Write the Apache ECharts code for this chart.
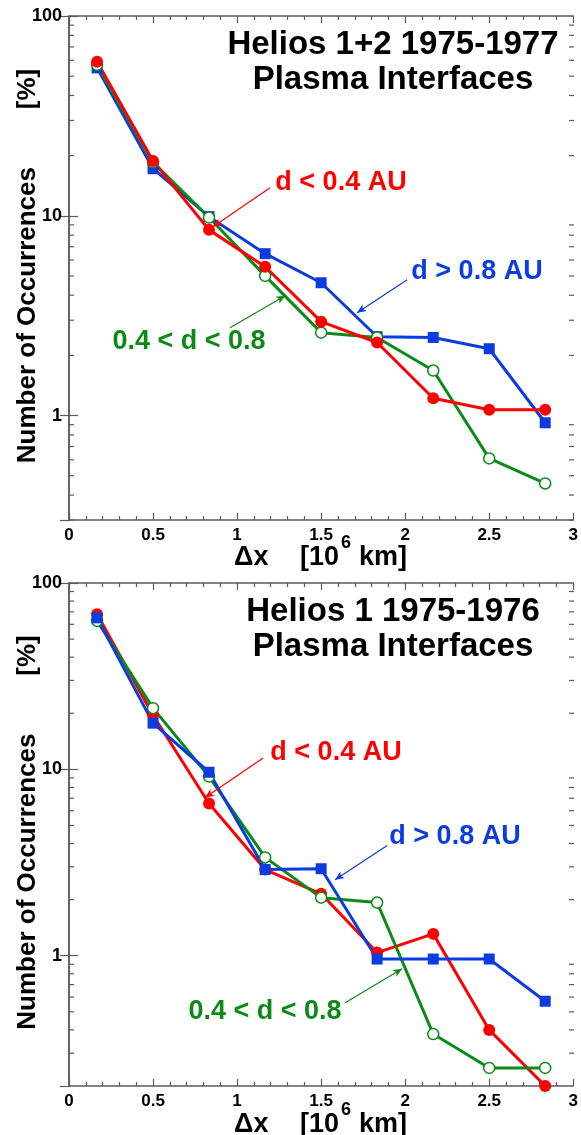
<!DOCTYPE html>
<html>
<head>
<meta charset="utf-8">
<script src="https://cdn.jsdelivr.net/npm/echarts@6/dist/echarts.min.js"></script>
<style>
html, body { margin: 0; padding: 0; background: #fff; }
#chart { width: 581px; height: 1135px; }
</style>
</head>
<body>
<div id="chart"></div>
<script>
// bin centres, 10^6 km
const dx = [0.167, 0.5, 0.833, 1.167, 1.5, 1.833, 2.167, 2.5, 2.833];

// Helios 1+2 1975-1977, % of occurrences
const h12Inner = [59, 18.8, 8.5, 5.56, 2.95, 2.32, 1.22, 1.07, 1.07];     // d < 0.4 AU
const h12Mid = [57, 18.5, 9.8, 5.0, 2.6, 2.46, 1.68, 0.61, 0.457];       // 0.4 < d < 0.8
const h12Outer = [55, 17.2, 9.9, 6.46, 4.62, 2.48, 2.46, 2.16, 0.92];    // d > 0.8 AU

// Helios 1 1975-1976
const h1Inner = [68, 19.5, 6.56, 2.9, 2.15, 1.04, 1.31, 0.40, 0.20];
const h1Mid = [62.6, 21.3, 9.15, 3.37, 2.05, 1.93, 0.38, 0.25, 0.25];
const h1Outer = [65, 17.7, 9.65, 2.9, 2.93, 0.96, 0.96, 0.96, 0.57];

const panelTitles = [['Helios 1+2 1975-1977', 'Plasma Interfaces'], ['Helios 1 1975-1976', 'Plasma Interfaces']];
const yMins = [0.3, 0.2];

const RED = '#ff0000', GREEN = '#0c8a18', BLUE = '#0a3ce0';
const AXIS = '#5a5a5a';
const FONT = '"Liberation Sans", Arial, Helvetica, sans-serif';

const pair = (ys) => dx.map((x, i) => [x, ys[i]]);

function arrow(from, to, color) {
    return {
        silent: true,
        animation: false,
        symbol: ['none', 'arrow'],
        symbolSize: [6, 9],
        lineStyle: { color: color, width: 1.2, type: 'solid' },
        label: { show: false },
        data: [[{ coord: from }, { coord: to }]]
    };
}

function lineSeries(data, color, kind, ax, mark) {
    let s = {
        type: 'line',
        data: data,
        xAxisIndex: ax, yAxisIndex: ax,
        lineStyle: { color: color, width: 3 },
        symbol: kind === 'square' ? 'rect' : 'circle',
        symbolSize: kind === 'dot' ? 12 : 11,
        itemStyle: kind === 'open'
            ? { color: '#fff', borderColor: color, borderWidth: 1.5 }
            : { color: color, borderWidth: 0 },
        emphasis: { disabled: true }
    };
    if (mark) s.markLine = mark;
    return s;
}

const grids = [
    { left: 69, top: 16, width: 505, height: 504 },
    { left: 69, top: 583, width: 505, height: 503 }
];

let xAxes = [], yAxes = [];
grids.forEach((g, i) => {
    ['bottom', 'top'].forEach(pos => {
        xAxes.push({
            type: 'value', gridIndex: i, position: pos,
            min: 0, max: 3, interval: 0.5,
            axisLine: { lineStyle: { color: AXIS, width: 1.5 } },
            axisTick: { inside: true, length: 7, lineStyle: { color: AXIS, width: 1.2 } },
            minorTick: { show: true, splitNumber: 5, length: 4, lineStyle: { color: AXIS, width: 1.2 } },
            splitLine: { show: false },
            axisLabel: {
                show: pos === 'bottom', margin: 7,
                color: '#000', fontSize: 17, fontWeight: 'bold', fontFamily: FONT,
                formatter: v => String(v)
            }
        });
    });
    ['left', 'right'].forEach(pos => {
        yAxes.push({
            type: 'log', logBase: 10, gridIndex: i, position: pos,
            min: yMins[i], max: 100,
            axisLine: { show: true, lineStyle: { color: AXIS, width: 1.5 } },
            axisTick: { inside: true, length: 9, lineStyle: { color: AXIS, width: 1.2 } },
            splitLine: { show: false },
            axisLabel: {
                show: pos === 'left', margin: 7, showMinLabel: false,
                color: '#000', fontSize: 18, fontWeight: 'bold', fontFamily: FONT
            }
        });
    });
});

let option = {
    animation: false,
    backgroundColor: '#fff',
    grid: grids,
    xAxis: xAxes,
    yAxis: yAxes,
    series: [
        // top panel (red drawn last)
        lineSeries(pair(h12Outer), BLUE, 'square', 0, arrow([2.012, 4.79], [1.714, 3.27], BLUE)),
        lineSeries(pair(h12Mid), GREEN, 'open', 0, arrow([0.958, 2.75], [1.286, 3.98], GREEN)),
        lineSeries(pair(h12Inner), RED, 'dot', 0, arrow([1.196, 13.8], [0.857, 8.81], RED)),
        // bottom panel (blue drawn last)
        lineSeries(pair(h1Inner), RED, 'dot', 2, arrow([1.155, 11.5], [0.81, 7.07], RED)),
        lineSeries(pair(h1Mid), GREEN, 'open', 2, arrow([1.643, 0.559], [1.982, 0.851], GREEN)),
        lineSeries(pair(h1Outer), BLUE, 'square', 2, arrow([1.893, 3.9], [1.583, 2.56], BLUE))
    ]
};

let myChart = echarts.init(document.getElementById('chart'));
myChart.setOption(option);

// texts + minor log ticks
function txt(x, y, s, size, color, align, rot) {
    return {
        type: 'text', x: x, y: y, rotation: rot || 0, silent: true,
        style: {
            text: s, fill: color || '#000', fontSize: size, fontWeight: 'bold', fontFamily: FONT,
            align: align || 'center', verticalAlign: 'middle'
        }
    };
}

let graphic = [];
const offsets = [0, 567];
const seriesLabels = [
    [[341, 183, 'd < 0.4 AU', RED], [477, 272, 'd > 0.8 AU', BLUE], [189, 342, '0.4 < d < 0.8', GREEN]],
    [[336, 753, 'd < 0.4 AU', RED], [455, 837, 'd > 0.8 AU', BLUE], [265, 1012, '0.4 < d < 0.8', GREEN]]
];

grids.forEach((g, i) => {
    let off = offsets[i];
    graphic.push(txt(393, 45 + off, panelTitles[i][0], 33, '#000'));
    graphic.push(txt(393, 80 + off, panelTitles[i][1], 33, '#000'));
    seriesLabels[i].forEach(l => graphic.push(txt(l[0], l[1], l[2], 27, l[3])));
    // axis names
    graphic.push(txt(28, g.top + g.height / 2 - 2, 'Number of Occurrences        [%]', 26, '#000', 'center', Math.PI / 2));
    graphic.push(txt(234, 558 + off, '\u0394x', 27, '#000', 'left'));
    graphic.push(txt(300, 558 + off, '[10', 27, '#000', 'left'));
    graphic.push(txt(341, 543 + off, '6', 18, '#000', 'left'));
    graphic.push(txt(359, 558 + off, 'km]', 27, '#000', 'left'));

    // minor ticks for the log axis, 2..9 within each decade
    let x0 = g.left, x1 = g.left + g.width;
    [0.1, 1, 10].forEach(base => {
        for (let k = 2; k <= 9; k++) {
            let v = k * base;
            if (v <= yMins[i] || v >= 100) continue;
            let y = myChart.convertToPixel({ yAxisIndex: i * 2 }, v);
            graphic.push({ type: 'line', silent: true, shape: { x1: x0, y1: y, x2: x0 + 5, y2: y }, style: { stroke: AXIS, lineWidth: 1.2 } });
            graphic.push({ type: 'line', silent: true, shape: { x1: x1 - 5, y1: y, x2: x1, y2: y }, style: { stroke: AXIS, lineWidth: 1.2 } });
        }
    });
});

myChart.setOption({ graphic: graphic });
window.addEventListener('resize', function () { myChart.resize() });
</script>
</body>
</html>
